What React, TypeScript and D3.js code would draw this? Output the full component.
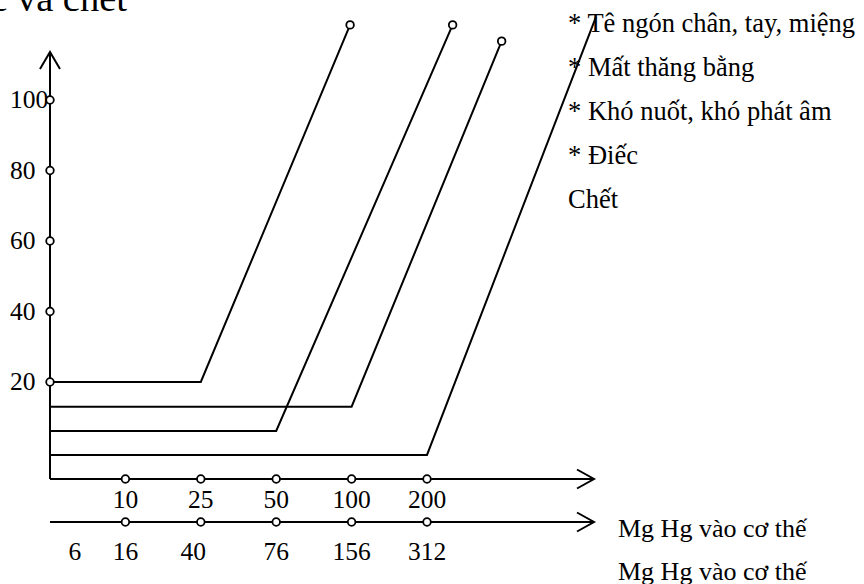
import React from "react";
import * as d3 from "d3";

// ---- data ----
const TITLE = "ngộ độc và chết";
const Y_TICKS = [20, 40, 60, 80, 100];
const X_TICK_POS = [1, 2, 3, 4, 5];
const X_LABELS_TOP = ["10", "25", "50", "100", "200"];
const X_LABELS_BOTTOM = ["6", "16", "40", "76", "156", "312"];
const X_LABELS_BOTTOM_POS = [0.33, 1, 1.9, 3, 4, 5];
const AXIS_LABELS = ["Mg Hg vào cơ thế", "Mg Hg vào cơ thế"];
const SYMPTOMS = [
  "* Tê ngón chân, tay, miệng",
  "* Mất thăng bằng",
  "* Khó nuốt, khó phát âm",
  "* Điếc",
  "Chết",
];
// four threshold curves: flat baseline, break point, end point
const CURVE_BASE = [20, 13, 6.1, -0.7];
const CURVE_BREAK = [2, 4, 3, 5];
const CURVE_END_X = [3.98, 5.99, 5.34, 7.24];
const CURVE_END_Y = [121.3, 116.7, 121.3, 123.5];
const CURVE_END_MARK = [true, true, true, false];

const W = 864;
const H = 584;
const FONT = "'Liberation Serif', 'Times New Roman', serif";

export default function App() {
  const x = d3.scaleLinear().domain([0, 5]).range([50, 427]);
  const y = d3.scaleLinear().domain([20, 100]).range([382, 100]);
  const x0 = x(0);
  const axis1Y = 479;
  const axis2Y = 522;
  const axisEnd = 594;
  const yTop = 52;
  const line = d3.line<[number, number]>().x((d) => x(d[0])).y((d) => y(d[1]));
  const sw = 2;

  const curves = CURVE_BASE.map((b, i) => [
    [0, b],
    [CURVE_BREAK[i], b],
    [CURVE_END_X[i], CURVE_END_Y[i]],
  ] as [number, number][]);

  const arrowRight = (yy: number) =>
    `M${axisEnd - 17},${yy - 9.5}L${axisEnd},${yy}L${axisEnd - 17},${yy + 9.5}`;

  const circ = { r: 3.8, fill: "#fff", stroke: "#000", strokeWidth: 1.8 };

  return (
    <svg
      width={W}
      height={H}
      style={{ position: "absolute", left: 0, top: 0, background: "#fff" }}
      fontFamily={FONT}
    >
      <rect width={W} height={H} fill="#fff" />
      <text x={127} y={11} fontSize={38.5} textAnchor="end" fill="#000">
        {TITLE}
      </text>

      {/* y axis */}
      <line x1={x0} x2={x0} y1={axis1Y} y2={yTop} stroke="#000" strokeWidth={sw} />
      <path
        d={`M${x0 - 10},${yTop + 17}L${x0},${yTop}L${x0 + 10},${yTop + 17}`}
        fill="none"
        stroke="#000"
        strokeWidth={sw}
      />
      {Y_TICKS.map((t) => (
        <text key={"yl" + t} x={10} y={y(t) + 8} fontSize={25.5} fill="#000">
          {t}
        </text>
      ))}

      {/* curves */}
      {curves.map((c, i) => (
        <path key={"c" + i} d={line(c) || ""} fill="none" stroke="#000" strokeWidth={sw} />
      ))}

      {/* x axes */}
      <line x1={x0} x2={axisEnd} y1={axis1Y} y2={axis1Y} stroke="#000" strokeWidth={sw} />
      <path d={arrowRight(axis1Y)} fill="none" stroke="#000" strokeWidth={sw} />
      <line x1={x0} x2={axisEnd} y1={axis2Y} y2={axis2Y} stroke="#000" strokeWidth={sw} />
      <path d={arrowRight(axis2Y)} fill="none" stroke="#000" strokeWidth={sw} />

      {X_LABELS_TOP.map((l, i) => (
        <text key={"xt" + i} x={x(X_TICK_POS[i])} y={508} fontSize={25.5} textAnchor="middle" fill="#000">
          {l}
        </text>
      ))}
      {X_LABELS_BOTTOM.map((l, i) => (
        <text key={"xb" + i} x={x(X_LABELS_BOTTOM_POS[i])} y={560} fontSize={25.5} textAnchor="middle" fill="#000">
          {l}
        </text>
      ))}
      {AXIS_LABELS.map((l, i) => (
        <text key={"al" + i} x={618} y={537 + i * 43} fontSize={26} fill="#000">
          {l}
        </text>
      ))}

      {/* tick circles */}
      {Y_TICKS.map((t) => (
        <circle key={"yc" + t} cx={x0} cy={y(t)} {...circ} />
      ))}
      {X_TICK_POS.map((p) => (
        <g key={"xc" + p}>
          <circle cx={x(p)} cy={axis1Y} {...circ} />
          <circle cx={x(p)} cy={axis2Y} {...circ} />
        </g>
      ))}
      {curves.map((c, i) =>
        CURVE_END_MARK[i] ? (
          <circle key={"ce" + i} cx={x(c[2][0])} cy={y(c[2][1])} {...circ} />
        ) : null
      )}

      {/* legend */}
      {SYMPTOMS.map((s, i) => (
        <text key={"s" + i} x={568} y={32 + i * 44} fontSize={26.5} fill="#000">
          {s}
        </text>
      ))}
    </svg>
  );
}
